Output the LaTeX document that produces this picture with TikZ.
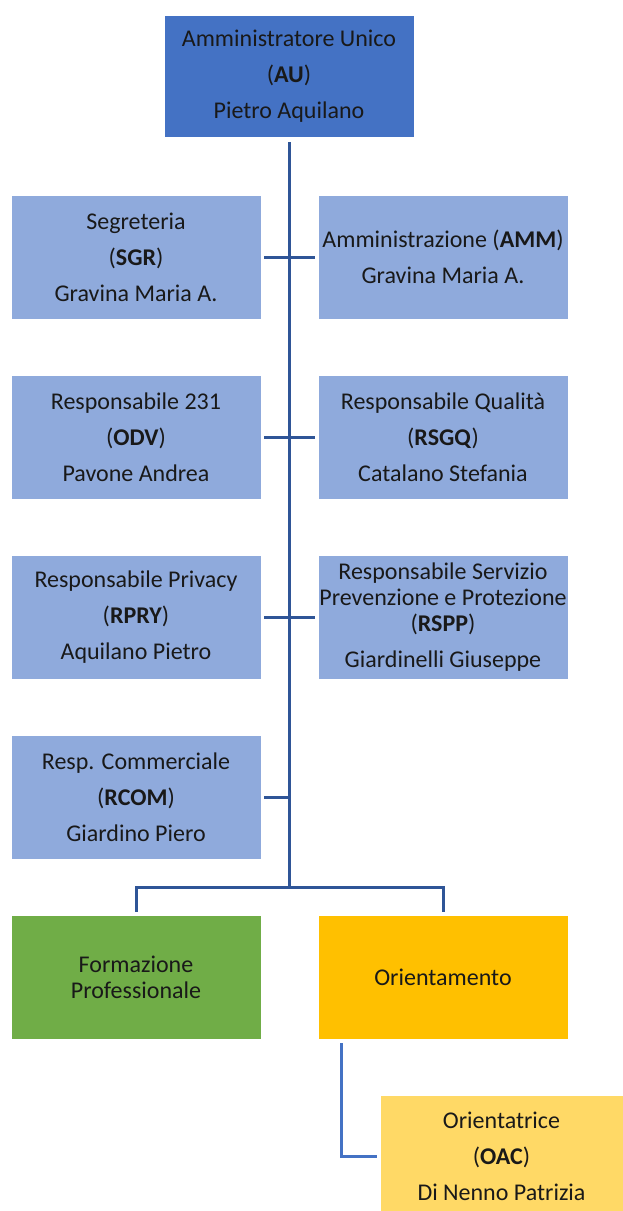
\documentclass[tikz,border=0pt]{standalone}
\usepackage{fontspec}
\setmainfont{Carlito}
\usepackage{xcolor}
\usepackage{tikz}
\usetikzlibrary{positioning,calc}

\definecolor{auBlue}{HTML}{4472C4}
\definecolor{staffBlue}{HTML}{8FAADC}
\definecolor{lineBlue}{HTML}{2F5597}
\definecolor{formGreen}{HTML}{70AD47}
\definecolor{orientGold}{HTML}{FFC000}
\definecolor{oacYellow}{HTML}{FFD966}

\tikzset{
    unit/.style={draw=white, line width=0.6pt, inner sep=0pt, align=center,
        minimum width=250pt, minimum height=124pt, text=black!90,
        font=\fontsize{24}{26}\selectfont},
    link/.style={draw=lineBlue, line width=3pt},
    sublink/.style={draw=auBlue, line width=3pt}
}

\begin{document}
\begin{tikzpicture}[x=1pt,y=-1pt]
        \useasboundingbox (0,0) rectangle (623,1211);
        % Vertice
        \node[unit, fill=auBlue, minimum height=122pt] (au) at (289,76)
            {Amministratore Unico\\[10pt](\textbf{AU})\\[10pt]Pietro Aquilano};
        % Staff
        \node[unit, fill=staffBlue] (sgr) at (136,257)
            {Segreteria\\[10pt](\textbf{SGR})\\[10pt]Gravina Maria A.};
        \node[unit, fill=staffBlue] (amm) at (443,257)
            {Amministrazione (\textbf{AMM})\\[10pt]Gravina Maria A.};
        \node[unit, fill=staffBlue] (odv) at (136,437)
            {Responsabile 231\\[10pt](\textbf{ODV})\\[10pt]Pavone Andrea};
        \node[unit, fill=staffBlue] (rsgq) at (443,437)
            {Responsabile Qualità\\[10pt](\textbf{RSGQ})\\[10pt]Catalano Stefania};
        \node[unit, fill=staffBlue] (rpry) at (136,617)
            {Responsabile Privacy\\[10pt](\textbf{RPRY})\\[10pt]Aquilano Pietro};
        \node[unit, fill=staffBlue] (rspp) at (443,617)
            {Responsabile Servizio\\Prevenzione e Protezione\\(\textbf{RSPP})\\[10pt]Giardinelli Giuseppe};
        \node[unit, fill=staffBlue] (rcom) at (136,797)
            {Resp. Commerciale\\[10pt](\textbf{RCOM})\\[10pt]Giardino Piero};
        % Aree
        \node[unit, fill=formGreen] (forma) at (136,977)
            {Formazione\\Professionale};
        \node[unit, fill=orientGold] (orient) at (443,977)
            {Orientamento};
        \node[unit, fill=oacYellow, minimum width=243pt, minimum height=122pt] (oac) at (501.5,1156)
            {Orientatrice\\[10pt](\textbf{OAC})\\[10pt]Di Nenno Patrizia};

        % Collegamenti
        \coordinate (hub) at (289,887);
        \draw[link, shorten <=5pt] (au.south) -- (hub);
        \draw[link, shorten <=3pt, shorten >=3pt] (sgr) -- (amm);
        \draw[link, shorten <=3pt, shorten >=3pt] (odv) -- (rsgq);
        \draw[link, shorten <=3pt, shorten >=3pt] (rpry) -- (rspp);
        \draw[link, shorten <=3pt] (rcom.east) -- (rcom.east -| hub);
        \draw[link, shorten >=3pt] (hub) -| (forma.north);
        \draw[link, shorten >=3pt] (hub) -| (orient.north);
        \draw[sublink, shorten >=3pt] ([xshift=24pt,yshift=-4pt]orient.south west) |- (oac.west);
    \end{tikzpicture}
\end{document}
